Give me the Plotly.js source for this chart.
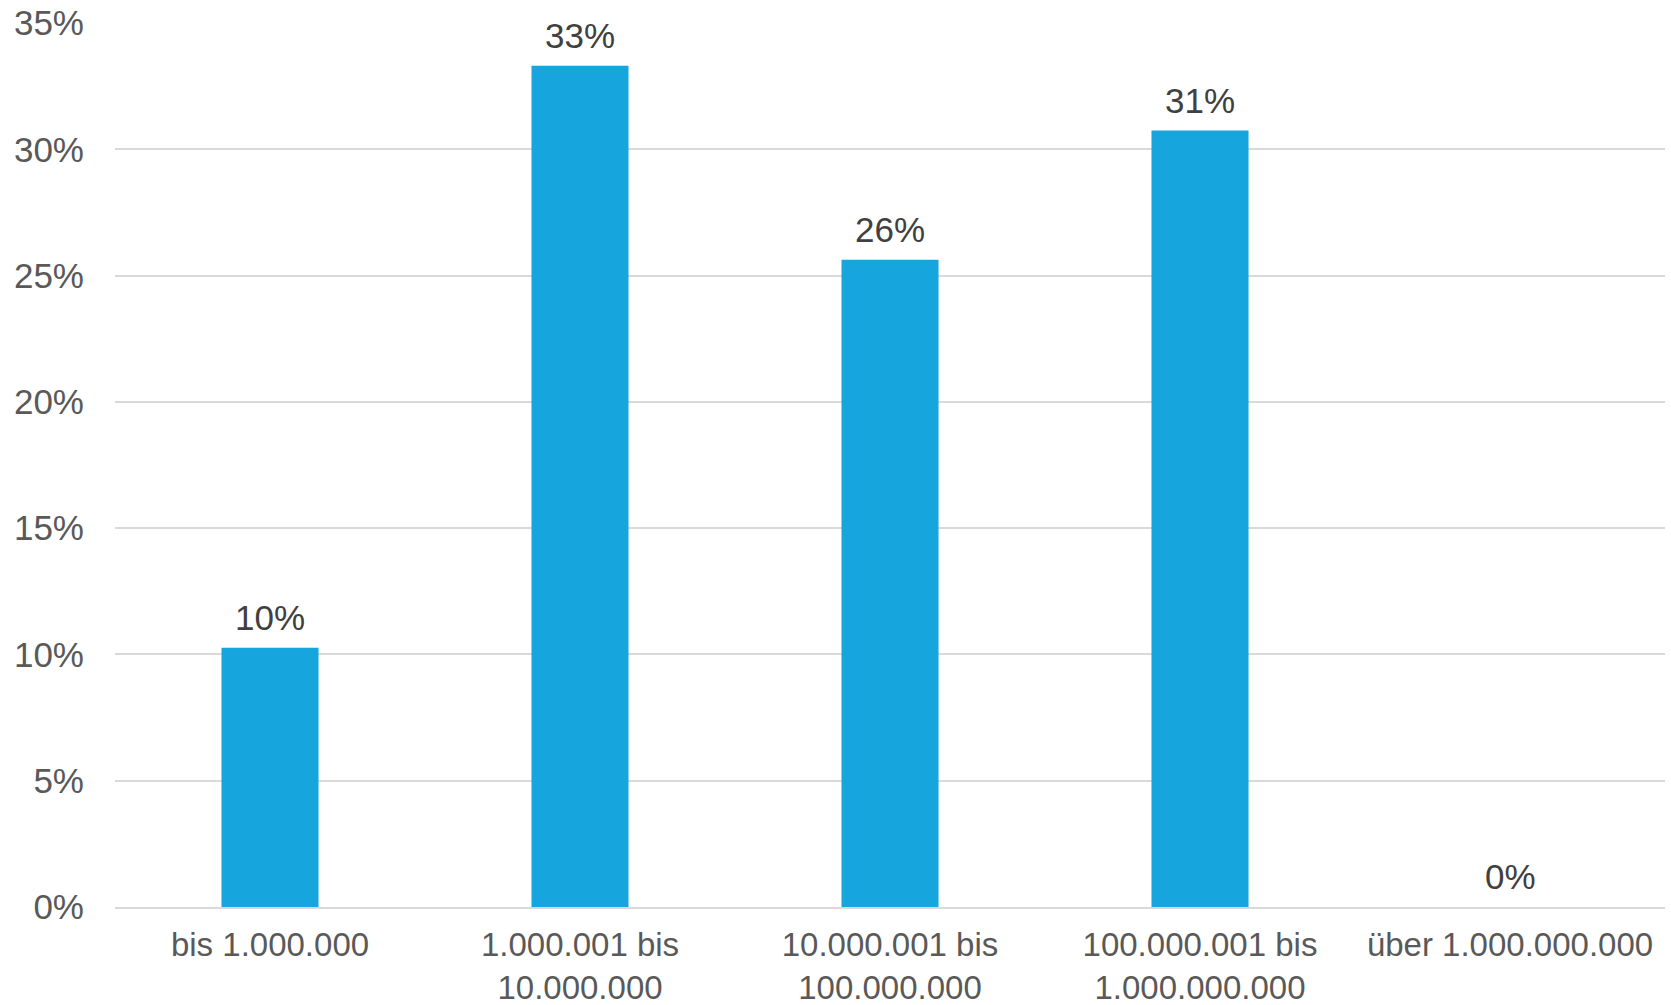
<!DOCTYPE html>
<html>
<head>
<meta charset="utf-8">
<script src="https://cdn.plot.ly/plotly-3.0.1.min.js"></script>
<style>html,body{margin:0;padding:0;background:#fff;}#chart{width:1671px;height:1005px;}</style>
</head>
<body>
<div id="chart"></div>
<script>
const categories = ["bis 1.000.000", "1.000.001 bis<br>10.000.000", "10.000.001 bis<br>100.000.000", "100.000.001 bis<br>1.000.000.000", "über 1.000.000.000"];
const values = [0.1026, 0.3331, 0.2563, 0.3074, 0.0];
const valueLabels = ["10%", "33%", "26%", "31%", "0%"];
const yTickVals = [0, 0.05, 0.10, 0.15, 0.20, 0.25, 0.30, 0.35];
const yTickText = ["0%", "5%", "10%", "15%", "20%", "25%", "30%", "35%"];

const FONT = 'Liberation Sans, Arial, sans-serif';

const trace = {
  type: 'bar',
  x: categories,
  y: values,
  marker: {color: '#17A5DD'},
  hoverinfo: 'none'
};

const annotations = categories.map((c, i) => ({
  x: c, y: values[i], xref: 'x', yref: 'y',
  text: valueLabels[i],
  showarrow: false,
  xanchor: 'center', yanchor: 'bottom',
  yshift: 9,
  font: {family: FONT, size: 35, color: '#404040'}
}));

const layout = {
  width: 1671, height: 1005,
  margin: {l: 115, r: 6, t: 23, b: 98},
  paper_bgcolor: '#ffffff', plot_bgcolor: '#ffffff',
  bargap: 0.687,
  showlegend: false,
  font: {family: FONT, size: 35, color: '#595959'},
  annotations: annotations,
  xaxis: {
    type: 'category',
    showgrid: false,
    showline: true, linecolor: '#D9D9D9', linewidth: 2,
    ticks: '', tickfont: {family: FONT, size: 33, color: '#595959'},
    ticklabelstandoff: 7
  },
  yaxis: {
    range: [0, 0.35],
    tickvals: yTickVals, ticktext: yTickText,
    showgrid: true, gridcolor: '#D9D9D9', gridwidth: 2,
    zeroline: false, showline: false,
    ticks: '', tickfont: {family: FONT, size: 35, color: '#595959'},
    ticklabelstandoff: 30
  }
};

Plotly.newPlot('chart', [trace], layout, {displayModeBar: false, staticPlot: true});
</script>
</body>
</html>
